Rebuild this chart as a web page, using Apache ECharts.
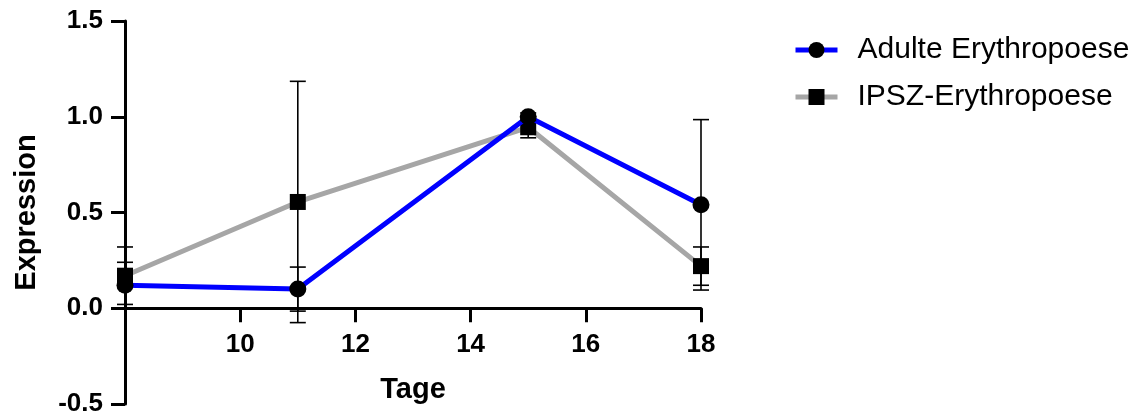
<!DOCTYPE html>
<html>
<head>
<meta charset="utf-8">
<script src="https://cdn.jsdelivr.net/npm/echarts@6/dist/echarts.min.js"></script>
<style>
  html, body { margin: 0; padding: 0; background: #fff; }
  #chart { width: 1144px; height: 416px; }
</style>
</head>
<body>
<div id="chart"></div>
<script>
// Data
var days = [8, 11, 15, 18];
var adultMean = [0.12, 0.10, 1.00, 0.54];
var adultErr = [0.12, 0.115, 0.02, 0.445];
var ipszMean = [0.17, 0.555, 0.945, 0.22];
var ipszErr = [0.15, 0.63, 0.055, 0.10];
var seriesNames = ['Adulte Erythropoese', 'IPSZ-Erythropoese'];
var yTicks = { min: -0.5, max: 1.5, interval: 0.5 };
var xTicks = { min: 8, max: 18, interval: 2 };

var FONT = '"Liberation Sans", Arial, Helvetica, sans-serif';

function pairs(xs, ys) { return xs.map(function (x, i) { return [x, ys[i]]; }); }
function errRows(xs, m, e) { return xs.map(function (x, i) { return [x, m[i] - e[i], m[i] + e[i]]; }); }

function errRender(params, api) {
  var x = api.value(0);
  var lo = api.coord([x, api.value(1)]);
  var hi = api.coord([x, api.value(2)]);
  var hw = 8;
  var st = { stroke: '#000', lineWidth: 1.6 };
  return {
    type: 'group',
    children: [
      { type: 'line', shape: { x1: lo[0], y1: lo[1], x2: hi[0], y2: hi[1] }, style: st },
      { type: 'line', shape: { x1: lo[0] - hw, y1: lo[1], x2: lo[0] + hw, y2: lo[1] }, style: st },
      { type: 'line', shape: { x1: hi[0] - hw, y1: hi[1], x2: hi[0] + hw, y2: hi[1] }, style: st }
    ]
  };
}

var GRID_TOP = 21, GRID_BOTTOM = 12, CHART_H = 416;
var plotH = CHART_H - GRID_TOP - GRID_BOTTOM;
// x axis drawn where y = 0 (as in the reference)
var xAxisOffset = -plotH * (0 - yTicks.min) / (yTicks.max - yTicks.min);

var chart = echarts.init(document.getElementById('chart'));
chart.setOption({
  animation: false,
  backgroundColor: '#fff',
  textStyle: { fontFamily: FONT },
  grid: { left: 125, right: 443, top: GRID_TOP, bottom: GRID_BOTTOM, containLabel: false, outerBoundsMode: 'none' },
  legend: {
    orient: 'vertical',
    left: 788,
    top: 30,
    itemWidth: 42,
    itemHeight: 20,
    itemGap: 17,
    data: seriesNames,
    lineStyle: { width: 5 },
    textStyle: { fontFamily: FONT, fontSize: 30, color: '#000', padding: [0, 0, 0, 15] }
  },
  xAxis: {
    type: 'value',
    min: xTicks.min, max: xTicks.max, interval: xTicks.interval,
    offset: xAxisOffset,
    name: 'Tage',
    nameLocation: 'middle',
    nameGap: 67,
    nameTextStyle: { fontFamily: FONT, fontSize: 29, fontWeight: 'bold', color: '#000' },
    axisLine: { onZero: false, lineStyle: { color: '#000', width: 3 } },
    axisTick: { show: true, length: 14, lineStyle: { color: '#000', width: 3 } },
    axisLabel: {
      margin: 24, fontFamily: FONT, fontSize: 26, fontWeight: 'bold', color: '#000',
      formatter: function (v) { return v === xTicks.min ? '' : String(v); }
    },
    splitLine: { show: false }
  },
  yAxis: {
    type: 'value',
    min: yTicks.min, max: yTicks.max, interval: yTicks.interval,
    name: 'Expression',
    nameLocation: 'middle',
    nameGap: 84,
    nameTextStyle: { fontFamily: FONT, fontSize: 29, fontWeight: 'bold', color: '#000' },
    axisLine: { show: true, onZero: false, lineStyle: { color: '#000', width: 3 } },
    axisTick: { show: true, length: 14, lineStyle: { color: '#000', width: 3 } },
    axisLabel: {
      margin: 22, fontFamily: FONT, fontSize: 26, fontWeight: 'bold', color: '#000',
      formatter: function (v) { return v.toFixed(1); }
    },
    splitLine: { show: false }
  },
  series: [
    {
      name: seriesNames[1],
      type: 'line',
      data: pairs(days, ipszMean),
      lineStyle: { color: '#A6A6A6', width: 5 },
      itemStyle: { color: '#000' },
      color: '#A6A6A6',
      symbol: 'rect',
      symbolSize: 16,
      z: 3
    },
    {
      name: seriesNames[0],
      type: 'line',
      data: pairs(days, adultMean),
      lineStyle: { color: '#0000FF', width: 5 },
      itemStyle: { color: '#000' },
      color: '#0000FF',
      symbol: 'circle',
      symbolSize: 17,
      z: 4
    },
    {
      type: 'custom',
      renderItem: errRender,
      data: errRows(days, ipszMean, ipszErr),
      z: 5,
      silent: true
    },
    {
      type: 'custom',
      renderItem: errRender,
      data: errRows(days, adultMean, adultErr),
      z: 5,
      silent: true
    }
  ]
});
</script>
</body>
</html>
